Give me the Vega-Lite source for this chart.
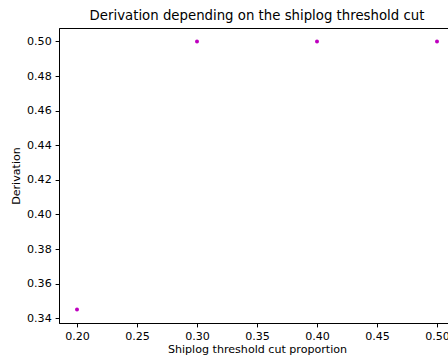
{
  "$schema": "https://vega.github.io/schema/vega-lite/v6.json",
  "autosize": "none",
  "padding": {"left": 59, "top": 28, "right": 0, "bottom": 38},
  "width": 396,
  "height": 295,
  "background": "white",
  "config": {
    "font": "DejaVu Sans",
    "view": {"stroke": "black", "strokeWidth": 1},
    "axis": {
      "grid": false,
      "domainColor": "black",
      "tickColor": "black",
      "tickSize": 3.9,
      "labelColor": "black",
      "labelFontSize": 11.1,
      "labelFont": "DejaVu Sans",
      "labelPadding": 3.9,
      "titleFont": "DejaVu Sans",
      "titleFontSize": 11.1,
      "titleFontWeight": "normal",
      "titleColor": "black"
    }
  },
  "title": {
    "text": "Derivation depending on the shiplog threshold cut",
    "font": "DejaVu Sans",
    "fontSize": 13.3,
    "fontWeight": "normal",
    "color": "black",
    "anchor": "middle",
    "offset": 6
  },
  "data": {
    "values": [
      {"proportion": 0.2, "derivation": 0.345},
      {"proportion": 0.3, "derivation": 0.5},
      {"proportion": 0.4, "derivation": 0.5},
      {"proportion": 0.5, "derivation": 0.5}
    ]
  },
  "mark": {"type": "point", "filled": true, "opacity": 1, "size": 16, "color": "#bf00bf"},
  "encoding": {
    "x": {
      "field": "proportion",
      "type": "quantitative",
      "title": "Shiplog threshold cut proportion",
      "scale": {"domain": [0.185, 0.515], "nice": false, "zero": false},
      "axis": {"values": [0.2, 0.25, 0.3, 0.35, 0.4, 0.45, 0.5], "format": ".2f", "titlePadding": 2, "labelFlush": false}
    },
    "y": {
      "field": "derivation",
      "type": "quantitative",
      "title": "Derivation",
      "scale": {"domain": [0.33725, 0.50775], "nice": false, "zero": false},
      "axis": {"values": [0.34, 0.36, 0.38, 0.4, 0.42, 0.44, 0.46, 0.48, 0.5], "format": ".2f", "titlePadding": 5, "labelFlush": false}
    }
  }
}
